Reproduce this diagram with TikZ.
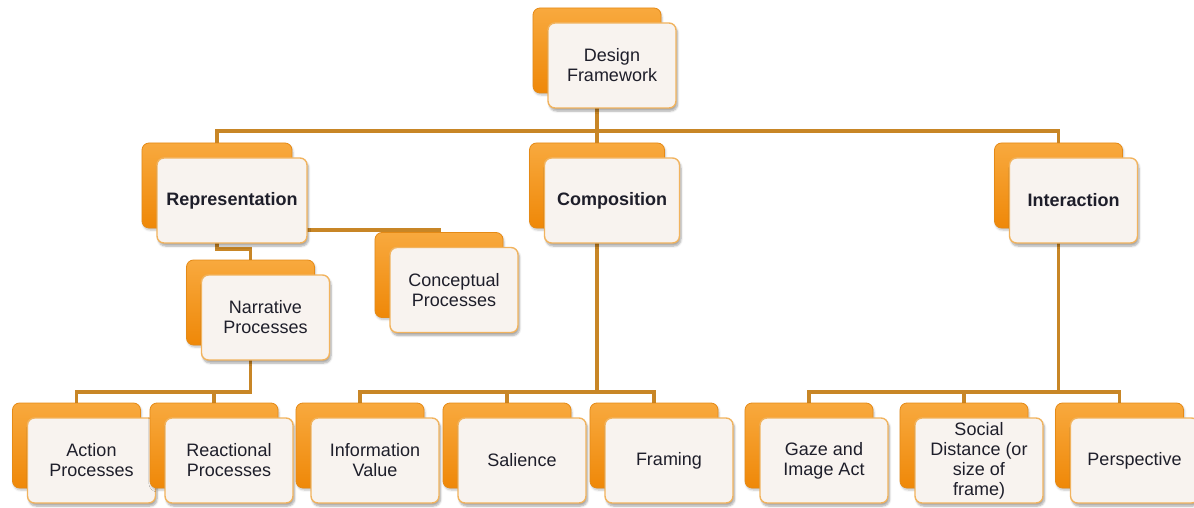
\documentclass[tikz,border=0pt]{standalone}
\usepackage{fontspec}
\setmainfont{Liberation Sans}
\usetikzlibrary{shadows.blur}
\definecolor{conncol}{HTML}{C88626}
\definecolor{backtop}{HTML}{F8A93E}
\definecolor{backbot}{HTML}{EF8808}
\definecolor{backline}{HTML}{E58A16}
\definecolor{frontfill}{HTML}{F8F3EF}
\definecolor{frontline}{HTML}{F1B35E}
\definecolor{labeltext}{HTML}{1E1E2A}
\pgfdeclarelayer{bg}
\pgfsetlayers{bg,main}
\tikzset{
  cardback/.style={rectangle, rounded corners=7pt, minimum height=85pt,
    draw=backline, line width=0.8pt, top color=backtop, bottom color=backbot,
    blur shadow={shadow xshift=1pt, shadow yshift=-2pt, shadow opacity=25, shadow blur steps=5}},
  cardfront/.style={rectangle, rounded corners=7pt, minimum height=85pt,
    draw=frontline, line width=1.4pt, fill=frontfill, text=labeltext,
    align=center, font=\fontsize{18}{20}\selectfont, inner sep=2pt,
    blur shadow={shadow xshift=1.5pt, shadow yshift=-3pt, shadow opacity=35, shadow blur steps=6}},
  conn/.style={draw=conncol, line width=3.2pt},
}
% #1 name, #2/#3 centre of the front card, #4 width, #5 label
\newcommand\mkcard[5]{%
  \node[cardback, minimum width=#4] (#1-b) at (#2-15,#3-15) {};
  \node[cardfront, minimum width=#4] (#1) at (#2,#3) {#5};
}
\begin{document}
\begin{tikzpicture}[x=1pt,y=-1pt]
\useasboundingbox (0,0) rectangle (1194,508);

% top level
\mkcard{df}{612}{65.5}{128}{Design\\Framework}

% second level
\mkcard{rep}{232}{200.5}{150}{\bfseries Representation}
\mkcard{comp}{612}{200.5}{135}{\bfseries Composition}
\mkcard{inter}{1073.5}{200.5}{128}{\bfseries Interaction}

% under Representation
\mkcard{narr}{265.5}{317.5}{128}{Narrative\\Processes}
\mkcard{conc}{454}{290}{128}{Conceptual\\Processes}

% bottom row
\mkcard{act}{91.5}{460.5}{128}{Action\\Processes}
\mkcard{react}{229}{460.5}{128}{Reactional\\Processes}
\mkcard{info}{375}{460.5}{128}{Information\\Value}
\mkcard{sal}{522}{460.5}{128}{Salience}
\mkcard{frm}{669}{460.5}{128}{Framing}
\mkcard{gaze}{824}{460.5}{128}{Gaze and\\Image Act}
\mkcard{soc}{979}{460.5}{128}{Social\\Distance (or\\size of\\frame)}
\mkcard{persp}{1134.5}{460.5}{128}{Perspective}

% connectors, drawn behind the cards
\begin{pgfonlayer}{bg}
  \draw[conn] (df-b.center) -- (df-b.center |- 0,131) -| (rep-b.north);
  \draw[conn] (df-b.center) -- (df-b.center |- 0,131) -| (comp-b.north);
  \draw[conn] (df-b.center) -- (df-b.center |- 0,131) -| (inter-b.north);

  \draw[conn] (rep-b.center) -- (rep-b.center |- 0,230) -| (conc-b.north);
  \draw[conn] (rep-b.center) -- (rep-b.center |- 0,249) -| (narr-b.north);

  \draw[conn] (narr-b.center) -- (narr-b.center |- 0,392) -| (act-b.north);
  \draw[conn] (narr-b.center) -- (narr-b.center |- 0,392) -| (react-b.north);

  \draw[conn] (comp-b.center) -- (comp-b.center |- 0,392) -| (info-b.north);
  \draw[conn] (comp-b.center) -- (comp-b.center |- 0,392) -| (sal-b.north);
  \draw[conn] (comp-b.center) -- (comp-b.center |- 0,392) -| (frm-b.north);

  \draw[conn] (inter-b.center) -- (inter-b.center |- 0,392) -| (gaze-b.north);
  \draw[conn] (inter-b.center) -- (inter-b.center |- 0,392) -| (soc-b.north);
  \draw[conn] (inter-b.center) -- (inter-b.center |- 0,392) -| (persp-b.north);
\end{pgfonlayer}
\end{tikzpicture}
\end{document}
